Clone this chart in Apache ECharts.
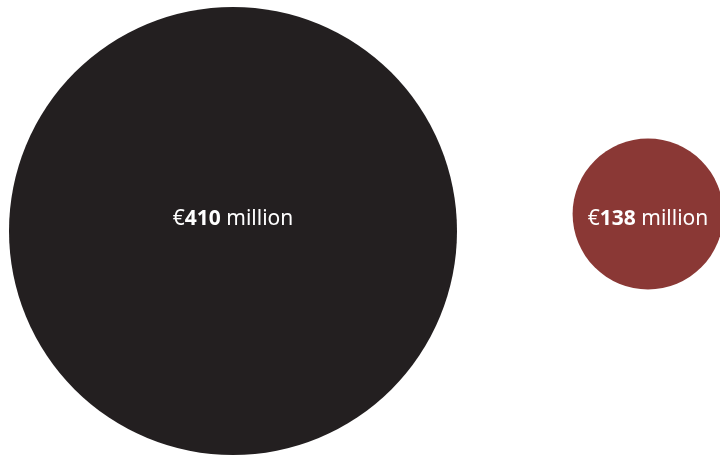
<!DOCTYPE html>
<html>
<head>
<meta charset="utf-8">
<script src="https://cdn.jsdelivr.net/npm/echarts@6/dist/echarts.min.js"></script>
<style>
  html, body { margin: 0; padding: 0; background: #ffffff; }
  #chart { width: 720px; height: 456px; }
</style>
</head>
<body>
<div id="chart"></div>
<script>
// Two amounts in € million, each drawn as a circle whose diameter scales with the amount
const categories = ['total', 'part'];
const amounts = [410, 138];
const colors = ['#231f20', '#8a3835'];

// diameter in pixels per € million
const PX_PER_MILLION = 448 / 410;
// vertical nudge of each circle relative to the shared label line
const circleShift = [13, -4];

const chart = echarts.init(document.getElementById('chart'), null, { renderer: 'canvas' });

const seriesData = amounts.map((v, i) => ({
  value: [categories[i], 'row', v],
  symbolOffset: [0, circleShift[i]],
  itemStyle: { color: colors[i], opacity: 1 },
  label: { offset: [0, -circleShift[i] + 1] }
}));

chart.setOption({
  animation: false,
  backgroundColor: '#ffffff',
  grid: { left: 233, right: 72, top: 0, height: 436, containLabel: false },
  xAxis: {
    type: 'category',
    data: categories,
    boundaryGap: false,
    show: false
  },
  yAxis: {
    type: 'category',
    data: ['row'],
    show: false
  },
  series: [{
    type: 'scatter',
    clip: false,
    symbol: 'circle',
    symbolSize: (val) => val[2] * PX_PER_MILLION,
    data: seriesData,
    itemStyle: { opacity: 1 },
    label: {
      show: true,
      position: 'inside',
      color: '#ffffff',
      fontFamily: 'Noto Sans',
      fontSize: 21,
      formatter: (p) => '€{b|' + p.value[2] + '} million',
      rich: {
        b: { fontFamily: 'Noto Sans', fontSize: 21, fontWeight: 'bold', color: '#ffffff' }
      }
    },
    emphasis: { disabled: true }
  }]
});
</script>
</body>
</html>
